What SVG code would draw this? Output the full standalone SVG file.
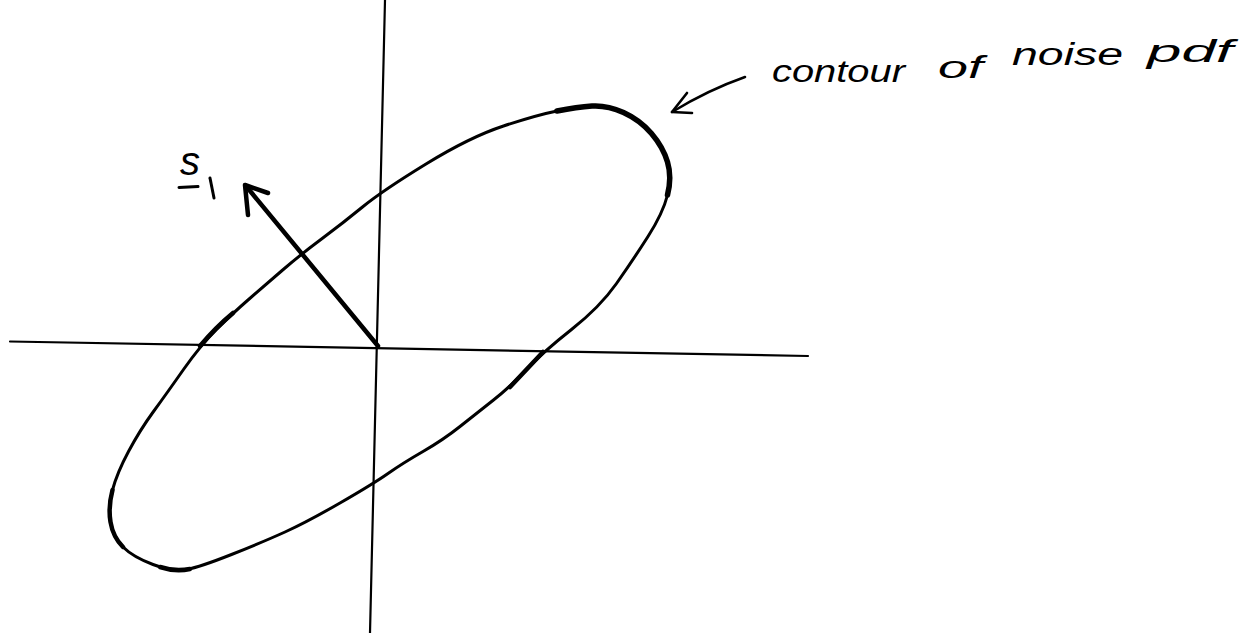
<svg xmlns="http://www.w3.org/2000/svg" width="1251" height="633" viewBox="0 0 1251 633">
<style>
.ink{fill:none;stroke:#000;stroke-linecap:round;stroke-linejoin:round}
.ax{stroke-width:2.2}
.el{stroke-width:3}
.elb{stroke-width:5.5}
.elm{stroke-width:4.5}
.vec{stroke-width:4.5}
.ann{stroke-width:2.6}
.hand{font-family:"Liberation Sans","DejaVu Sans",sans-serif;font-style:italic;fill:#000}
</style>
<rect width="1251" height="633" fill="#fff"/>
<g id="axes">
<line class="ink ax" x1="10" y1="341.5" x2="808" y2="356"/>
<line class="ink ax" x1="385" y1="0" x2="370" y2="633"/>
</g>
<g id="contour">
<path class="ink el" d="M183.5,369.5 Q200,346 216.5,329.5 Q233,313 248,300 Q263,287 281.5,271 Q300,255 321.5,239 Q343,223 362.5,207 Q382,191 426,164 Q470,137 503.5,126 Q537,115 557,111 Q577,107 592,106 Q607,105 623.5,112.5 Q640,120 651.5,133.5 Q663,147 667.5,162 Q672,177 667.5,195 Q663,213 648,236.5 Q633,260 616.5,283.5 Q600,307 571.5,329.5 Q543,352 526.5,369.5 Q510,387 493.5,400 Q477,413 460,426.5 Q443,440 423,451.5 Q403,463 388,473.5 Q373,484 340,503 Q307,522 285,532 Q263,542 231.5,554.5 Q200,567 186.5,569.5 Q173,572 153,564.5 Q133,557 123,547 Q113,537 110.5,522 Q108,507 112.5,490 Q117,473 128.5,451.5 Q140,430 153.5,411.5 Q167,393 183.5,369.5 Z"/>
<path class="ink elb" d="M557,111 Q577,107 592,106 Q607,105 623.5,112.5 Q640,120 651.5,133.5 Q663,147 667.5,162 Q672,177 667.5,195"/>
<path class="ink elm" d="M200,346 Q216,327 233,313"/>
<path class="ink elm" d="M543,352 Q526,370 510,387"/>
<path class="ink elm" d="M123,547 Q113,537 110.5,522 Q108,507 112.5,490"/>
<path class="ink elm" d="M160,567 Q175,572 190,569"/>
</g>
<g id="vector-s1">
<line class="ink vec" x1="378" y1="346" x2="246" y2="186"/>
<polyline class="ink vec" points="248,215 245,185 268,193"/>
</g>
<g id="label-s1">
<text class="hand" x="180" y="175" font-size="40" font-style="normal">s</text>
<line class="ink" style="stroke-width:3" x1="179" y1="187.5" x2="198" y2="186.5"/>
<line class="ink" style="stroke-width:3" x1="210" y1="178" x2="214" y2="198"/>
</g>
<g id="annotation">
<text class="hand" font-size="31">
<tspan x="772" y="82" textLength="133" lengthAdjust="spacingAndGlyphs">contour</tspan>
<tspan x="938" y="78" textLength="45" lengthAdjust="spacingAndGlyphs">of</tspan>
<tspan x="1012" y="65" textLength="111" lengthAdjust="spacingAndGlyphs">noise</tspan>
<tspan x="1147" y="62" textLength="86" lengthAdjust="spacingAndGlyphs">pdf</tspan>
</text>
</g>
<g id="connectors">
<path class="ink ann" d="M745,77 Q708,90 672,112"/>
<polyline class="ink ann" points="687,93 672,112 692,113"/>
</g>
</svg>
